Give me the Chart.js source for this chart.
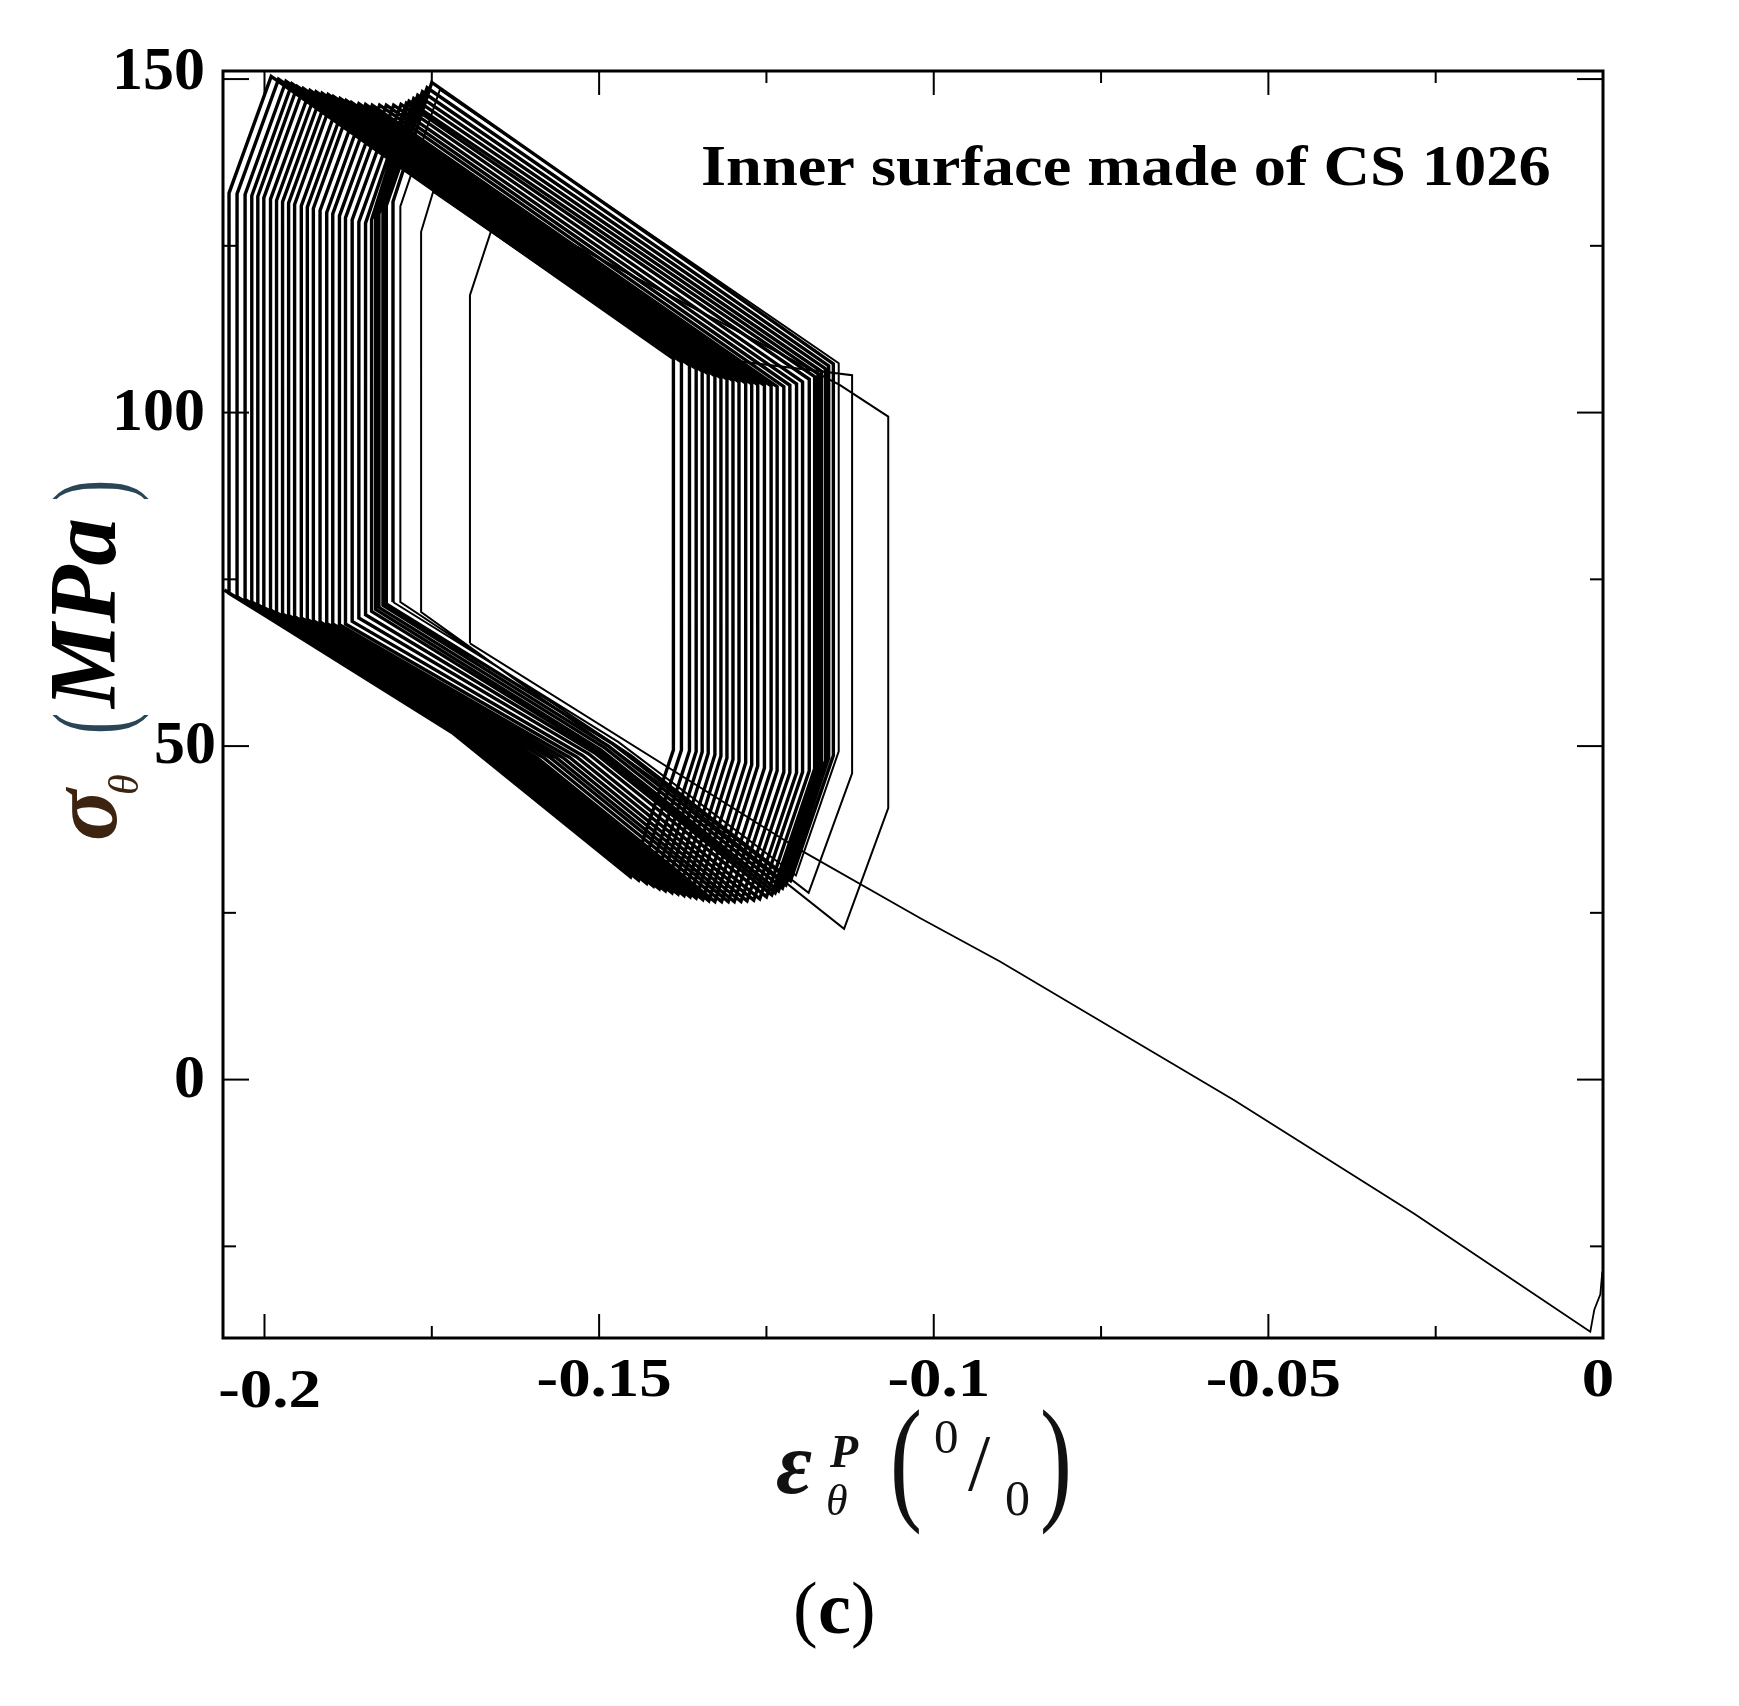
<!DOCTYPE html>
<html>
<head>
<meta charset="utf-8">
<title>Inner surface made of CS 1026</title>
<script src="https://cdn.jsdelivr.net/npm/chart.js@4.4.1/dist/chart.umd.min.js"></script>
<style>
    html, body { margin: 0; padding: 0; background: #ffffff; }
    canvas { display: block; }
</style>
</head>
<body>
<canvas id="grafico" width="1739" height="1706"></canvas>
<script>
// first loading, from the origin up to the bottom of the first loop
var startX = [-0.0001, -0.0004, -0.0013, -0.0019, -0.0282, -0.0551, -0.0901, -0.1020, -0.1199];
var startY = [-28.8, -32.2, -34.5, -37.8, -20.1, -3.1, 17.7, 24.2, 34.4];

// one value per cycle, first cycle = rightmost loop
var leftX = [-0.1693, -0.1766, -0.1797, -0.1808, -0.1818, -0.1823, -0.1829, -0.1834, -0.1840, -0.1849, -0.1859,
    -0.1869, -0.1879, -0.1888, -0.1898, -0.1907, -0.1917, -0.1927, -0.1936, -0.1945, -0.1955, -0.1964,
    -0.1973, -0.1982, -0.1991, -0.2001, -0.2010, -0.2019, -0.2029, -0.2041, -0.2053];
var leftBottomY = [65.4, 70.1, 71.6, 71.6, 71.3, 71.1, 70.8, 70.5, 70.2, 69.7, 69.2, 68.7, 68.3, 68.2, 68.3, 68.4,
    68.6, 68.8, 69.0, 69.2, 69.4, 69.6, 69.8, 70.0, 70.4, 70.8, 71.2, 71.6, 72.0, 72.4, 72.9];
var leftTopY = [117.6, 127.1, 130.9, 131.6, 131.0, 130.4, 129.8, 129.3, 128.9, 128.4, 128.6, 128.9, 129.2, 129.5,
    129.8, 130.0, 130.3, 130.6, 130.8, 131.0, 131.2, 131.4, 131.6, 131.8, 132.0, 132.2, 132.4, 132.5, 132.7,
    132.8, 132.9];
var peakX = [-0.1649, -0.1748, -0.1738, -0.1750, -0.1757, -0.1764, -0.1771, -0.1777, -0.1784, -0.1788, -0.1796,
    -0.1807, -0.1818, -0.1828, -0.1839, -0.1849, -0.1859, -0.1870, -0.1878, -0.1887, -0.1897, -0.1905,
    -0.1914, -0.1923, -0.1932, -0.1942, -0.1951, -0.1959, -0.1968, -0.1979, -0.1990];
var peakY = [131.0, 133.1, 148.4, 149.5, 148.7, 148.1, 147.6, 147.1, 146.7, 146.4, 146.2, 146.1, 146.1, 146.1,
    146.1, 146.2, 146.3, 146.5, 146.8, 147.1, 147.4, 147.7, 147.9, 148.1, 148.3, 148.6, 148.9, 149.3, 149.7,
    150.0, 150.4];
// bend on the upper side, only seen on the first two cycles
var firstTopKneeX = [-0.1140, -0.1399];
var firstTopKneeY = [104.1, 109.0];
var rightX = [-0.1068, -0.1122, -0.1142, -0.1150, -0.1157, -0.1162, -0.1168, -0.1173, -0.1178, -0.1186, -0.1196,
    -0.1205, -0.1215, -0.1224, -0.1234, -0.1243, -0.1253, -0.1263, -0.1272, -0.1281, -0.1291, -0.1300,
    -0.1309, -0.1318, -0.1327, -0.1337, -0.1346, -0.1355, -0.1365, -0.1377, -0.1389];
var rightTopY = [99.4, 105.6, 107.4, 107.3, 107.0, 106.6, 106.2, 105.8, 105.4, 105.0, 104.6, 104.3, 104.1, 103.9,
    103.9, 104.0, 104.1, 104.2, 104.3, 104.4, 104.6, 104.8, 105.0, 105.2, 105.5, 105.8, 106.2, 106.6, 107.1,
    107.6, 108.1];
var rightBottomY = [40.7, 45.9, 49.2, 48.6, 48.2, 47.8, 47.4, 47.0, 46.6, 46.3, 46.1, 46.0, 46.0, 46.1, 46.3,
    46.5, 46.7, 47.0, 47.2, 47.5, 47.7, 48.0, 48.2, 48.5, 48.7, 48.9, 49.1, 49.2, 49.3, 49.4, 49.4];
var lowX = [-0.1134, -0.1187, -0.1206, -0.1214, -0.1221, -0.1226, -0.1232, -0.1237, -0.1242, -0.1250, -0.1260,
    -0.1269, -0.1279, -0.1288, -0.1298, -0.1307, -0.1317, -0.1327, -0.1336, -0.1345, -0.1355, -0.1364,
    -0.1373, -0.1382, -0.1391, -0.1401, -0.1410, -0.1419, -0.1429, -0.1441, -0.1453];
var lowY = [22.6, 28.0, 30.6, 29.8, 29.2, 28.7, 28.3, 28.0, 27.7, 27.4, 27.1, 26.9, 26.8, 26.7, 26.7, 26.7, 26.7,
    26.7, 26.8, 27.0, 27.2, 27.4, 27.6, 27.8, 28.0, 28.3, 28.6, 29.0, 29.4, 29.9, 30.4];
var bottomKneeX = [-0.1399, -0.1452, -0.1471, -0.1479, -0.1486, -0.1491, -0.1497, -0.1502, -0.1507, -0.1515,
    -0.1525, -0.1534, -0.1544, -0.1553, -0.1563, -0.1572, -0.1582, -0.1592, -0.1601, -0.1610, -0.1620,
    -0.1629, -0.1638, -0.1647, -0.1656, -0.1666, -0.1675, -0.1684, -0.1694, -0.1706, -0.1718];
var bottomKneeY = [43.7, 48.6, 50.6, 50.3, 50.0, 49.7, 49.4, 49.2, 49.0, 48.8, 48.6, 48.4, 48.3, 48.2, 48.2, 48.2,
    48.2, 48.2, 48.3, 48.5, 48.7, 48.9, 49.1, 49.3, 49.5, 49.8, 50.1, 50.5, 50.9, 51.4, 51.9];
var endX = -0.2060;
var endY = 73.4;

// axes
var xMajorTicks = [-0.2, -0.15, -0.1, -0.05, 0];
var xMinorTicks = [-0.175, -0.125, -0.075, -0.025];
var xTickLabels = ["-0.2", "-0.15", "-0.1", "-0.05", "0"];
var yMajorTicks = [0, 50, 100, 150];
var yMinorTicks = [-25, 25, 75, 125];
var yTickLabels = ["0", "50", "100", "150"];

var serif = '"Liberation Serif", "Times New Roman", serif';

function startPath() {
    var pts = [];
    for (var k = 0; k < startX.length; k++) {
        pts.push({ x: startX[k], y: startY[k] });
    }
    pts.push({ x: leftX[0], y: leftBottomY[0] });
    return pts;
}

// cycles [from, to), ending where the next one starts
function cyclePath(from, to) {
    var pts = [];
    for (var i = from; i < to; i++) {
        pts.push({ x: leftX[i], y: leftBottomY[i] });
        pts.push({ x: leftX[i], y: leftTopY[i] });
        pts.push({ x: peakX[i], y: peakY[i] });
        if (i < firstTopKneeX.length) {
            pts.push({ x: firstTopKneeX[i], y: firstTopKneeY[i] });
        }
        pts.push({ x: rightX[i], y: rightTopY[i] });
        pts.push({ x: rightX[i], y: rightBottomY[i] });
        pts.push({ x: lowX[i], y: lowY[i] });
        pts.push({ x: bottomKneeX[i], y: bottomKneeY[i] });
    }
    if (to < leftX.length) {
        pts.push({ x: leftX[to], y: leftBottomY[to] });
    } else {
        pts.push({ x: endX, y: endY });
    }
    return pts;
}

function serie(label, pts, width) {
    return {
        label: label,
        data: pts,
        showLine: true,
        borderColor: "#000000",
        backgroundColor: "#000000",
        borderWidth: width,
        borderJoinStyle: "miter",
        pointRadius: 0,
        tension: 0,
        fill: false
    };
}

function writeText(ctx, text, font, x, y, align, stretch, color) {
    ctx.save();
    ctx.font = font;
    ctx.fillStyle = color || "#000000";
    ctx.textAlign = align || "left";
    ctx.textBaseline = "alphabetic";
    ctx.translate(x, y);
    ctx.scale(stretch || 1, 1);
    ctx.fillText(text, 0, 0);
    ctx.restore();
}

function tick(ctx, x1, y1, x2, y2) {
    ctx.beginPath();
    ctx.moveTo(x1, y1);
    ctx.lineTo(x2, y2);
    ctx.stroke();
}

var frameAndText = {
    id: "frameAndText",
    afterDraw: function (chart) {
        var ctx = chart.ctx;
        var a = chart.chartArea;
        var sx = chart.scales.x;
        var sy = chart.scales.y;

        ctx.save();
        ctx.strokeStyle = "#000000";
        ctx.lineWidth = 3;
        ctx.strokeRect(a.left, a.top, a.right - a.left, a.bottom - a.top);

        // inward ticks on all four sides
        ctx.lineWidth = 2;
        xMajorTicks.concat(xMinorTicks).forEach(function (v) {
            var px = sx.getPixelForValue(v);
            var len = xMajorTicks.indexOf(v) >= 0 ? 24 : 12;
            tick(ctx, px, a.bottom, px, a.bottom - len);
            tick(ctx, px, a.top, px, a.top + len);
        });
        yMajorTicks.concat(yMinorTicks).forEach(function (v) {
            var py = sy.getPixelForValue(v);
            var len = yMajorTicks.indexOf(v) >= 0 ? 26 : 13;
            tick(ctx, a.left, py, a.left + len, py);
            tick(ctx, a.right, py, a.right - len, py);
        });

        // tick labels
        xMajorTicks.forEach(function (v, i) {
            var px = sx.getPixelForValue(v);
            var cx = v === 0 ? px - 5 : px + 5;
            var base = a.bottom + (i === 0 ? 69 : 58);
            writeText(ctx, xTickLabels[i], "bold 55px " + serif, cx, base, "center", 1.18);
        });
        yMajorTicks.forEach(function (v, i) {
            var py = sy.getPixelForValue(v);
            var right = v === 50 ? 216 : 205;
            var base = v === 150 ? py + 10 : py + 17;
            writeText(ctx, yTickLabels[i], "bold 62px " + serif, right, base, "right", 1);
        });

        // annotation inside the plot
        writeText(ctx, "Inner surface made of CS 1026", "bold 56px " + serif, 701, 185, "left", 1.15);

        // y axis title, read bottom to top
        ctx.save();
        ctx.translate(116, 841);
        ctx.rotate(-Math.PI / 2);
        writeText(ctx, "σ", "bold italic 96px " + serif, 0, 0, "left", 1, "#3d2410");
        writeText(ctx, "θ", "italic 42px " + serif, 46, 22, "left", 1, "#3d2410");
        writeText(ctx, "(", "106px " + serif, 107, 10, "left", 0.6, "#2a4555");
        writeText(ctx, "MPa", "bold italic 95px " + serif, 133, -1, "left", 1, "#000000");
        writeText(ctx, ")", "106px " + serif, 340, 10, "left", 0.6, "#2a4555");
        ctx.restore();

        // x axis title
        writeText(ctx, "ε", "bold italic 88px " + serif, 776, 1493, "left", 1, "#111111");
        writeText(ctx, "P", "bold italic 46px " + serif, 830, 1467, "left", 1, "#111111");
        writeText(ctx, "θ", "italic 44px " + serif, 826, 1515, "left", 1, "#111111");
        writeText(ctx, "(", "137px " + serif, 890, 1505, "left", 0.7, "#111111");
        writeText(ctx, "0", "49px " + serif, 934, 1453, "left", 1, "#111111");
        writeText(ctx, "/", "80px " + serif, 968, 1490, "left", 1, "#111111");
        writeText(ctx, "0", "50px " + serif, 1005, 1515, "left", 1, "#111111");
        writeText(ctx, ")", "137px " + serif, 1040, 1505, "left", 0.7, "#111111");

        // panel letter
        writeText(ctx, "(", "74px " + serif, 793, 1633);
        writeText(ctx, "c", "bold 74px " + serif, 818, 1633);
        writeText(ctx, ")", "74px " + serif, 851, 1633);

        ctx.restore();
    }
};

var grafico = new Chart(document.getElementById("grafico"), {
    type: "scatter",
    data: {
        datasets: [
            serie("first loading", startPath(), 1.8),
            serie("first cycles", cyclePath(0, 3), 2.0),
            serie("later cycles", cyclePath(3, leftX.length), 3.4)
        ]
    },
    options: {
        responsive: false,
        animation: false,
        devicePixelRatio: 1,
        layout: {
            padding: { left: 223, right: 136, top: 71, bottom: 368 }
        },
        plugins: {
            legend: { display: false },
            tooltip: { enabled: false }
        },
        scales: {
            x: { type: "linear", min: -0.2062, max: 0, display: false },
            y: { type: "linear", min: -38.74, max: 151.21, display: false }
        }
    },
    plugins: [frameAndText]
});
</script>
</body>
</html>
